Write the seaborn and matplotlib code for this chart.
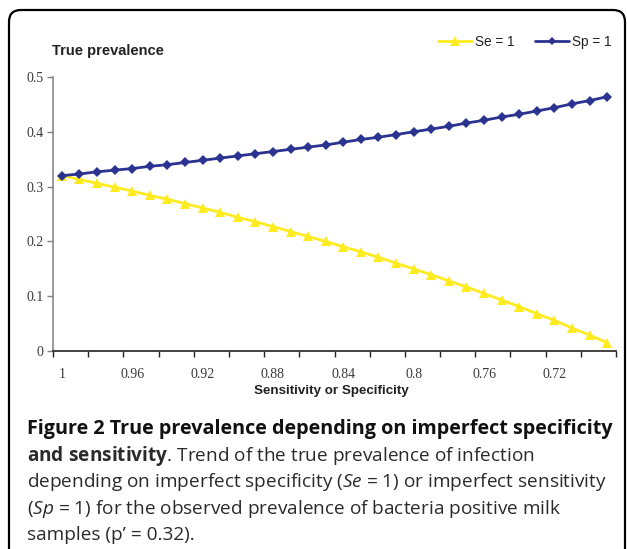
import numpy as np
import pandas as pd
import seaborn as sns
import matplotlib
matplotlib.use("Agg")
import matplotlib.pyplot as plt
from matplotlib.patches import FancyBboxPatch
from matplotlib.lines import Line2D
from matplotlib.transforms import IdentityTransform

# ---------------- data ----------------
accuracy = [1.00, 0.99, 0.98, 0.97, 0.96, 0.95, 0.94, 0.93, 0.92, 0.91, 0.90,
            0.89, 0.88, 0.87, 0.86, 0.85, 0.84, 0.83, 0.82, 0.81, 0.80, 0.79,
            0.78, 0.77, 0.76, 0.75, 0.74, 0.73, 0.72, 0.71, 0.70, 0.69]
se_1 = [0.320, 0.313, 0.306, 0.299, 0.292, 0.284, 0.277, 0.269, 0.261, 0.253,
        0.244, 0.236, 0.227, 0.218, 0.209, 0.200, 0.190, 0.181, 0.171, 0.160,
        0.150, 0.139, 0.128, 0.117, 0.105, 0.093, 0.081, 0.068, 0.056, 0.042,
        0.029, 0.015]
sp_1 = [0.320, 0.323, 0.327, 0.330, 0.333, 0.337, 0.340, 0.344, 0.348, 0.352,
        0.356, 0.360, 0.364, 0.368, 0.372, 0.376, 0.381, 0.386, 0.390, 0.395,
        0.400, 0.405, 0.410, 0.416, 0.421, 0.427, 0.432, 0.438, 0.444, 0.451,
        0.457, 0.464]
series_names = ["Se = 1", "Sp = 1"]
x_tick_labels = ["1", "0.96", "0.92", "0.88", "0.84", "0.8", "0.76", "0.72"]
x_tick_values = [1.00, 0.96, 0.92, 0.88, 0.84, 0.80, 0.76, 0.72]
y_ticks = [0, 0.1, 0.2, 0.3, 0.4, 0.5]
y_tick_labels = ["0", "0.1", "0.2", "0.3", "0.4", "0.5"]

df = pd.DataFrame({
    "acc": accuracy * 2,
    "prev": se_1 + sp_1,
    "series": [series_names[0]] * len(accuracy) + [series_names[1]] * len(accuracy),
})

# ---------------- style ----------------
sns.set_style("white")
plt.rcParams["font.family"] = ["Liberation Sans", "DejaVu Sans"]
plt.rcParams["mathtext.fontset"] = "custom"
plt.rcParams["mathtext.rm"] = "Open Sans"
plt.rcParams["mathtext.it"] = "Open Sans:italic"
plt.rcParams["mathtext.bf"] = "Open Sans:bold"

YELLOW = "#FFEB1F"
BLUE = "#2B3390"

W, H = 627, 549
fig = plt.figure(figsize=(W / 100, H / 100), dpi=100)
fig.patch.set_facecolor("white")

def fx(px):
    return px / W

def fy(py):
    return 1 - py / H

ax = fig.add_axes([fx(53), fy(351), fx(616) - fx(53), fy(77) - fy(351)])

sns.lineplot(data=df, x="acc", y="prev", hue="series", style="series",
             palette={series_names[0]: YELLOW, series_names[1]: BLUE},
             markers={series_names[0]: "^", series_names[1]: "D"},
             dashes=False, linewidth=2.0, markersize=7,
             markeredgewidth=0, ax=ax, legend=False, zorder=3)
for ln in ax.lines:
    if ln.get_marker() == "D":
        ln.set_markersize(5)

ax.set_xlim(1.005, 0.685)
ax.set_ylim(0, 0.5)
ax.set_xticks(x_tick_values)
ax.set_xticklabels(x_tick_labels)
ax.set_xticks([1.005 - 0.02 * k for k in range(17)], minor=True)
ax.set_yticks(y_ticks)
ax.set_yticklabels(y_tick_labels)

for lab in ax.get_xticklabels() + ax.get_yticklabels():
    lab.set_fontfamily("Liberation Serif")
    lab.set_fontsize(10)
    lab.set_color("#3a3a3a")

ax.tick_params(axis="x", which="major", length=0, pad=12)
ax.tick_params(axis="x", which="minor", length=4, width=1, color="#222222",
               direction="out", bottom=True)
ax.tick_params(axis="y", which="major", length=4, width=1, color="#808080",
               direction="out", left=True, pad=3)

for s in ["top", "right"]:
    ax.spines[s].set_visible(False)
ax.spines["left"].set_color("#808080")
ax.spines["left"].set_linewidth(1.1)
ax.spines["bottom"].set_color("#222222")
ax.spines["bottom"].set_linewidth(1.2)
ax.set_xlabel("")
ax.set_ylabel("")
ax.grid(False)

# axis titles
fig.text(fx(52), fy(51), "True prevalence", fontsize=10.5, fontweight="bold",
         color="#222222", ha="left", va="center")
fig.text(fx(331), fy(391), "Sensitivity or Specificity", fontsize=9.6,
         fontweight="bold", color="#222222", ha="center", va="center")

# legend
handles = [Line2D([], [], color=YELLOW, lw=2.0, marker="^", markersize=7,
                  markeredgewidth=0),
           Line2D([], [], color=BLUE, lw=2.0, marker="D", markersize=4.5,
                  markeredgewidth=0)]
fig.legend(handles, series_names, loc="center right",
           bbox_to_anchor=(fx(611), fy(42)), ncol=2, frameon=False,
           fontsize=9.8, handlelength=2.5, handletextpad=0.2,
           columnspacing=1.5, borderaxespad=0, borderpad=0,
           labelcolor="#222222")

# border
border = FancyBboxPatch((9, -30), 616, H - 10 + 30,
                        boxstyle="round,pad=0,rounding_size=12",
                        transform=IdentityTransform(), fill=False,
                        edgecolor="black", linewidth=1.6)
fig.patches.append(border)

# caption
cap_kw = dict(ha="left", va="baseline", family="Open Sans")
x0 = fx(27)
lines = [
    (r"Figure 2 True prevalence depending on imperfect specificity", "bold", 14.2, "#111111"),
    (r"$\mathbf{and\ sensitivity}$. Trend of the true prevalence of infection", "normal", 13.7, "#2a2a2a"),
    (r"depending on imperfect specificity ($\mathit{Se}$ = 1) or imperfect sensitivity", "normal", 13.7, "#2a2a2a"),
    (r"($\mathit{Sp}$ = 1) for the observed prevalence of bacteria positive milk", "normal", 13.7, "#2a2a2a"),
    (r"samples (p’ = 0.32).", "normal", 13.7, "#2a2a2a"),
]
baselines = [434, 461, 487, 514, 540]
for (t, w, fs, c), b in zip(lines, baselines):
    fig.text(x0, fy(b), t, fontweight=w, fontsize=fs, color=c, **cap_kw)

fig.savefig("out.png", dpi=100, facecolor="white")
